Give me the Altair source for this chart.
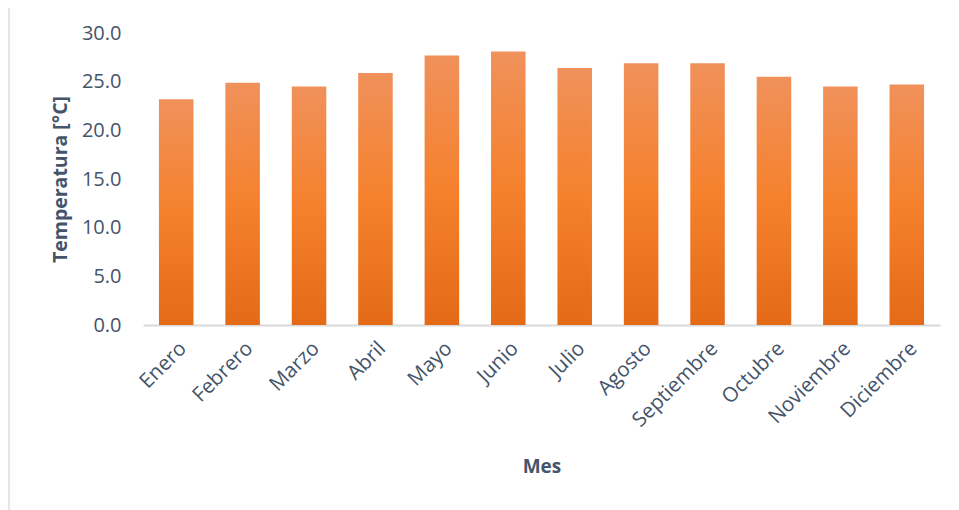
import altair as alt
import pandas as pd

meses = ["Enero", "Febrero", "Marzo", "Abril", "Mayo", "Junio", "Julio",
         "Agosto", "Septiembre", "Octubre", "Noviembre", "Diciembre"]
temperatura = [23.2, 24.9, 24.5, 25.9, 27.7, 28.1, 26.4, 26.9, 26.9, 25.5, 24.5, 24.7]

df = pd.DataFrame({"Mes": meses, "Temperatura": temperatura})

txt = "#44546A"
font = "Open Sans"

grad = alt.Gradient(
    gradient="linear", x1=0, y1=0, x2=0, y2=1,
    stops=[alt.GradientStop(color="#F0915B", offset=0),
           alt.GradientStop(color="#F5812C", offset=0.5),
           alt.GradientStop(color="#E46A17", offset=1)],
)

bars = alt.Chart(df).mark_bar(fill=grad).encode(
    x=alt.X("Mes:N", sort=meses,
            scale=alt.Scale(paddingInner=0.48, paddingOuter=0.24),
            axis=alt.Axis(title="Mes", labelAngle=-45, labelAlign="right",
                          labelBaseline="top", labelPadding=13, ticks=False,
                          domainColor="#D9D9D9", domainWidth=2,
                          labelFontSize=20.5, titleFontSize=19, titlePadding=27)),
    y=alt.Y("Temperatura:Q",
            scale=alt.Scale(domain=[0, 30], nice=False),
            axis=alt.Axis(title="Temperatura [°C]", format=".1f", values=[0, 5, 10, 15, 20, 25, 30],
                          domain=False, ticks=False, grid=False, labelPadding=22,
                          labelFontSize=20, titleFontSize=19.5, titlePadding=11)),
)

border = alt.Chart(df).mark_rule(color="#E3E6EA", strokeWidth=1.5).encode(
    x=alt.value(-134), y=alt.value(-25), y2=alt.value(500)
)

chart = alt.layer(bars, border).properties(
    width=797, height=292,
    autosize=alt.AutoSizeParams(type="none"),
    padding={"left": 135, "top": 25, "right": 10, "bottom": 190},
).configure_axis(
    labelColor=txt, titleColor=txt, labelFont=font, titleFont=font,
    titleFontWeight="bold",
).configure_view(stroke=None)

chart.save("out.html", embed_options={"renderer": "svg", "actions": False})
